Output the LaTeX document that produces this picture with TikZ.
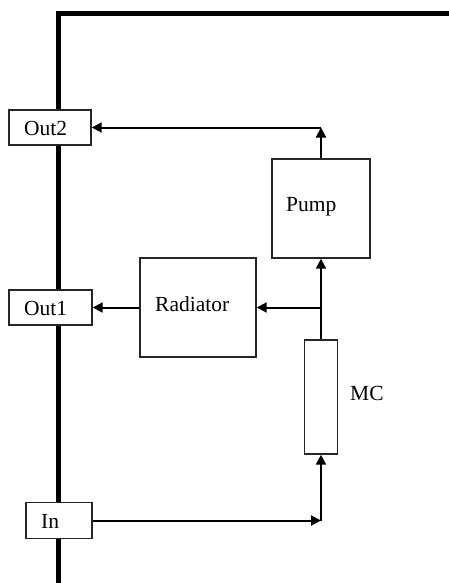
\documentclass[tikz,border=0pt]{standalone}
\usepackage{fontspec}
\setmainfont{Liberation Serif}
\usetikzlibrary{arrows.meta}
\begin{document}
\begin{tikzpicture}[x=1pt,y=-1pt,
  box/.style={draw=black!85, line width=1.4pt, fill=white, inner xsep=0pt, inner ysep=0pt, anchor=center},
  lbl/.style={font=\fontsize{21.5}{24}\selectfont, inner sep=0pt},
  flow/.style={line width=2pt, -{Triangle[length=10pt,width=10pt]}},
  wall/.style={line width=4.5pt}]
\useasboundingbox (0,0) rectangle (449,583);
\fill[white] (0,0) rectangle (449,583);
% wall
\draw[wall] (449,13.5) -- (58.5,13.5) -- (58.5,590);
% boxes
\node[box, minimum width=82pt, minimum height=35pt] (out2) at (50,127.5) {};
\node[box, minimum width=83pt, minimum height=35pt] (out1) at (50.5,307.5) {};
\node[box, minimum width=66pt, minimum height=36pt] (in) at (59,520.5) {};
\node[box, minimum width=98pt, minimum height=99pt] (pump) at (321,208.5) {};
\node[box, minimum width=116pt, minimum height=99pt] (rad) at (198,307.5) {};
\node[box, minimum width=33pt, minimum height=114pt] (mc) at (321,397) {};
% labels
\node[lbl, anchor=west] (tout2) at (24,128) {Out2};
\node[lbl, anchor=west] (tout1) at (24,308) {Out1};
\node[lbl, anchor=west] (tin) at (41,521) {In};
\node[lbl, anchor=west] (tpump) at (286,207) {Pump};
\node[lbl, anchor=west] (trad) at (155,304) {Radiator};
\node[lbl, anchor=west] (tmc) at (350,393) {MC};
% junctions
\coordinate (j2) at (pump.north |- out2.east);
\coordinate (j1) at (pump.south |- rad.east);
\coordinate (j0) at (mc.south |- in.east);
% connectors
\draw[flow] (in.east) -- (j0);
\draw[flow] (j0) -- (mc.south);
\draw[flow] (mc.north) -- (pump.south);
\draw[flow] (j1) -- (rad.east);
\draw[flow] (rad.west) -- (out1.east);
\draw[flow] (pump.north) -- (j2);
\draw[flow] (j2) -- (out2.east);
\end{tikzpicture}
\end{document}
